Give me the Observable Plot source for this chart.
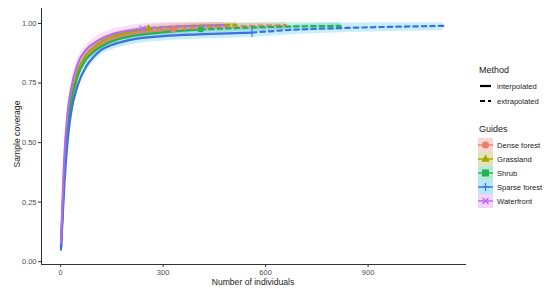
<!DOCTYPE html>
<html><head><meta charset="utf-8">
<script src="https://cdn.jsdelivr.net/npm/d3@7"></script>
<script src="https://cdn.jsdelivr.net/npm/@observablehq/plot@0.6"></script>
<style>
body{margin:0;background:#fff;font-family:"Liberation Sans",Arial,sans-serif;}
#wrap{position:relative;width:550px;height:292px;overflow:hidden;}
.t{position:absolute;color:#222;white-space:nowrap;}
.li{position:absolute;left:478px;height:14px;display:flex;align-items:center;font-size:7.6px;color:#222;}
.li svg{margin-right:4px;}
</style></head><body>
<div id="wrap"></div>
<script>
// ---- data ----
const groups = ["Dense forest","Grassland","Shrub","Sparse forest","Waterfront"];
const lineColors = ["#E5806C","#A3A500","#27B24E","#3E70DE","#B56AEE"];
const bandColors = ["#F8766D","#A3A500","#00BF7D","#00B0F6","#E76BF3"];
const observedN = [330, 257, 410, 560, 240];
const ciHalf = [0.018, 0.014, 0.018, 0.02, 0.02];

const denseM = [1,10,20,30,50,75,100,150,200,260,330,450,550,660];
const denseC = [0.06,0.36,0.56,0.66,0.78,0.855,0.895,0.935,0.955,0.967,0.975,0.985,0.99,0.993];
const grassM = [1,10,20,30,50,75,100,150,200,257,350,450,514];
const grassC = [0.06,0.37,0.57,0.68,0.80,0.87,0.905,0.945,0.963,0.978,0.988,0.993,0.995];
const shrubM = [1,10,20,30,50,75,100,150,200,300,410,550,700,820];
const shrubC = [0.06,0.35,0.55,0.66,0.78,0.85,0.885,0.925,0.945,0.963,0.975,0.983,0.988,0.99];
const sparseM = [1,10,20,30,50,75,100,120,150,200,300,420,560,700,850,1000,1120];
const sparseC = [0.05,0.30,0.50,0.62,0.74,0.82,0.865,0.89,0.91,0.93,0.947,0.955,0.962,0.975,0.982,0.987,0.99];
const waterM = [1,10,20,30,50,75,100,150,200,240,300,400,480];
const waterC = [0.08,0.42,0.62,0.72,0.83,0.89,0.92,0.955,0.97,0.978,0.985,0.99,0.993];

const xTicks = [0,300,600,900];
const yTicks = [0,0.25,0.5,0.75,1];
const xDomain = [-56, 1188];
const yDomain = [-0.012, 1.063];
const methods = ["interpolated","extrapolated"];
const shapes = ["circle","triangle","square","plus","times"];

// ---- build table ----
const series = [[denseM,denseC],[grassM,grassC],[shrubM,shrubC],[sparseM,sparseC],[waterM,waterC]];
const rows = [];
series.forEach(([M,C],gi)=>{
  M.forEach((m,i)=>{
    const g = groups[gi], n = observedN[gi], h = ciHalf[gi];
    const base = {group:g, m, qC:C[i], lo:C[i]-h, hi:Math.min(C[i]+h, 1.003)};
    if (m <= n) rows.push({...base, method:"interpolated"});
    if (m >= n) rows.push({...base, method:"extrapolated"});
  });
});
const obs = groups.map((g,gi)=>{
  const [M,C] = series[gi];
  const i = M.indexOf(observedN[gi]);
  return {group:g, m:M[i], qC:C[i]};
});
const interp = rows.filter(d=>d.method==="interpolated");
const extrap = rows.filter(d=>d.method==="extrapolated");
const bandRows = rows.filter(d=>!(d.method==="extrapolated" && d.m===observedN[groups.indexOf(d.group)]));

const plot = Plot.plot({
  width:550, height:292,
  marginLeft:41, marginRight:84, marginTop:8, marginBottom:28,
  style:{fontFamily:"Liberation Sans, Arial, sans-serif", fontSize:"7.5px", color:"#333", background:"transparent"},
  x:{domain:xDomain, label:null},
  y:{domain:yDomain, label:null},
  color:{domain:groups, range:lineColors},
  symbol:{domain:groups, range:shapes},
  marks:[
    Plot.areaY(bandRows,{x:"m", y1:"lo", y2:"hi", z:"group", fill:d=>bandColors[groups.indexOf(d.group)], fillOpacity:0.22, curve:"monotone-x"}),
    Plot.line(interp,{x:"m", y:"qC", z:"group", stroke:"group", strokeWidth:2.2, curve:"monotone-x"}),
    Plot.line(extrap,{x:"m", y:"qC", z:"group", stroke:"group", strokeWidth:2.2, strokeDasharray:"4.5,4", curve:"monotone-x"}),
    Plot.dot(obs.slice(0,3),{x:"m", y:"qC", symbol:"group", fill:"group", r:3}),
    Plot.dot(obs.slice(3),{x:"m", y:"qC", symbol:"group", stroke:"group", strokeWidth:1.1, r:3}),
    Plot.axisX({ticks:xTicks, tickSize:3, tickPadding:2, fill:"#4d4d4d", label:null}),
    Plot.axisY({ticks:yTicks, tickSize:3, tickPadding:2, tickFormat:d=>d.toFixed(2), fill:"#4d4d4d", label:null}),
    Plot.ruleX([xDomain[0]],{stroke:"#333", strokeWidth:1}),
    Plot.ruleY([yDomain[0]],{stroke:"#333", strokeWidth:1})
  ]
});
const wrap = document.getElementById("wrap");
wrap.appendChild(plot);

function addText(txt, css){const d=document.createElement("div");d.className="t";d.textContent=txt;Object.assign(d.style,css);wrap.appendChild(d);return d;}
addText("Number of individuals",{left:"253px",top:"277px",fontSize:"8.6px",transform:"translateX(-50%)"});
addText("Sample coverage",{left:"17px",top:"134px",fontSize:"8.6px",transform:"translate(-50%,-50%) rotate(-90deg)"});
addText("Method",{left:"479px",top:"65px",fontSize:"9px"});
addText("Guides",{left:"479px",top:"124px",fontSize:"9px"});

// method legend
const mTops=[79,94];
methods.forEach((m,i)=>{
  const d=document.createElement("div");d.className="li";d.style.top=mTops[i]+"px";
  d.innerHTML=`<svg width="15" height="14"><line x1="2" x2="13" y1="7" y2="7" stroke="#000" stroke-width="2.2" ${i?'stroke-dasharray="5,3"':''}/></svg>${m}`;
  wrap.appendChild(d);
});
// guides legend
const gTop=138;
const symPaths = [
  '<circle cx="7.5" cy="7" r="3.6" fill="C"/>',
  '<path d="M7.5,2.6 L11.6,9.8 L3.4,9.8Z" fill="C"/>',
  '<rect x="4" y="3.5" width="7" height="7" fill="C"/>',
  '<path d="M7.5,3 V11 M3.5,7 H11.5" stroke="C" stroke-width="1.2"/>',
  '<path d="M4.5,4 L10.5,10 M10.5,4 L4.5,10" stroke="C" stroke-width="1.2"/>'
];
groups.forEach((g,i)=>{
  const d=document.createElement("div");d.className="li";d.style.top=(gTop+i*14)+"px";
  d.innerHTML=`<svg width="15" height="14"><rect x="0" y="0" width="15" height="14" fill="${bandColors[i]}" fill-opacity="0.3" stroke="#ddd" stroke-width="0.5"/>`+
    `<line x1="0" x2="15" y1="7" y2="7" stroke="${lineColors[i]}" stroke-width="1.4"/>`+
    symPaths[i].replace(/C/g,lineColors[i])+`</svg>${g}`;
  wrap.appendChild(d);
});
</script>
</body></html>
